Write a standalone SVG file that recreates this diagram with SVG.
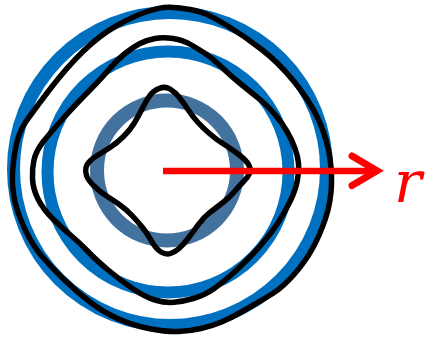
<svg xmlns="http://www.w3.org/2000/svg" width="425" height="338" viewBox="0 0 425 338">
<style>
.ring{fill:none}
.curve{fill:none;stroke:#000;stroke-width:5.5;stroke-linejoin:round}
.red{fill:none;stroke:#FF0000}
.lbl{font-family:"DejaVu Serif","Liberation Serif",serif;font-style:italic;fill:#FF0000}
</style>
<rect width="425" height="338" fill="#fff"/>
<g id="rings">
<circle id="ring-outer" class="ring" cx="170" cy="169" r="156.5" stroke="#0070C0" stroke-width="13"/>
<circle id="ring-middle" class="ring" cx="168" cy="172" r="120.5" stroke="#0070C0" stroke-width="12"/>
<circle id="ring-inner" class="ring" cx="167" cy="170.5" r="70" stroke="#44729F" stroke-width="14"/>
</g>
<g id="curves">
<path id="curve-outer" class="curve" d="M146.5,11.75 Q160,7 170,7.25 Q180,7.5 190,9.5 Q200,11.5 206,14 Q212,16.5 228.5,26.5 Q245,36.5 262,49.75 Q279,63 294,81.5 Q309,100 317,116.5 Q325,133 328.5,150 Q332,167 331.5,184.5 Q331,202 325.5,218.5 Q320,235 312.5,248.5 Q305,262 294,274.5 Q283,287 273.5,293 Q264,299 257,303 Q250,307 240.5,312.5 Q231,318 221.5,322 Q212,326 201,328.5 Q190,331 178.5,331.5 Q167,332 150,328.75 Q133,325.5 118,318.75 Q103,312 90,302 Q77,292 65,280.5 Q53,269 43,257.5 Q33,246 26.5,232.5 Q20,219 16.5,207.5 Q13,196 12.5,182.5 Q12,169 15,151 Q18,133 26,121.5 Q34,110 50.5,88.5 Q67,67 83.5,51 Q100,35 116.5,25.75 Q133,16.5 146.5,11.75 Z"/>
<path id="curve-middle" class="curve" d="M155,38.5 Q163,37 173,38.5 Q183,40 191.5,45 Q200,50 206,54 Q212,58 222,67.5 Q232,77 242,85 Q252,93 260.5,100 Q269,107 275.5,115 Q282,123 287,131.5 Q292,140 295,148.5 Q298,157 298.5,163.5 Q299,170 297.5,179.5 Q296,189 290.5,200.5 Q285,212 278.5,222 Q272,232 264,241.5 Q256,251 247.5,259.5 Q239,268 230.5,275.5 Q222,283 213.5,289 Q205,295 194,298.25 Q183,301.5 174,302.25 Q165,303 155,300 Q145,297 132.5,288.5 Q120,280 107.5,269.5 Q95,259 87.5,251 Q80,243 71,235.5 Q62,228 52.5,218.5 Q43,209 38,199 Q33,189 32.5,179 Q32,169 34,160 Q36,151 43,142 Q50,133 63.5,118 Q77,103 88.5,91.5 Q100,80 108.5,70 Q117,60 125,53.5 Q133,47 140,43.5 Q147,40 155,38.5 Z"/>
<path id="curve-inner" class="curve" d="M159,88.5 Q165,86 170,89 Q175,92 179,97 Q183,102 188,109.5 Q193,117 198,122.5 Q203,128 210,134 Q217,140 223.5,144 Q230,148 236,152.5 Q242,157 245,160 Q248,163 249.5,166.5 Q251,170 249.5,173.5 Q248,177 244,181 Q240,185 235,191 Q230,197 223.5,202 Q217,207 210,212.5 Q203,218 198,225 Q193,232 188,238.5 Q183,245 179,248.5 Q175,252 170.5,253.5 Q166,255 161,252 Q156,249 151.5,241 Q147,233 142.5,227.5 Q138,222 132.5,216 Q127,210 120,205 Q113,200 106.5,196 Q100,192 94,186 Q88,180 86.5,175.5 Q85,171 86,167.5 Q87,164 90,161 Q93,158 98,155 Q103,152 110,147.5 Q117,143 123.5,136.5 Q130,130 134,123.5 Q138,117 142,109 Q146,101 149.5,96 Q153,91 159,88.5 Z"/>
</g>
<g id="axis-r">
<line class="red" x1="163" y1="171" x2="377" y2="171" stroke-width="6.5"/>
<polyline class="red" points="352,156 377,170.8 352,185.6" stroke-width="7" stroke-linecap="round" stroke-linejoin="miter"/>
<text class="lbl" x="394" y="202" font-size="58">r</text>
</g>
</svg>
